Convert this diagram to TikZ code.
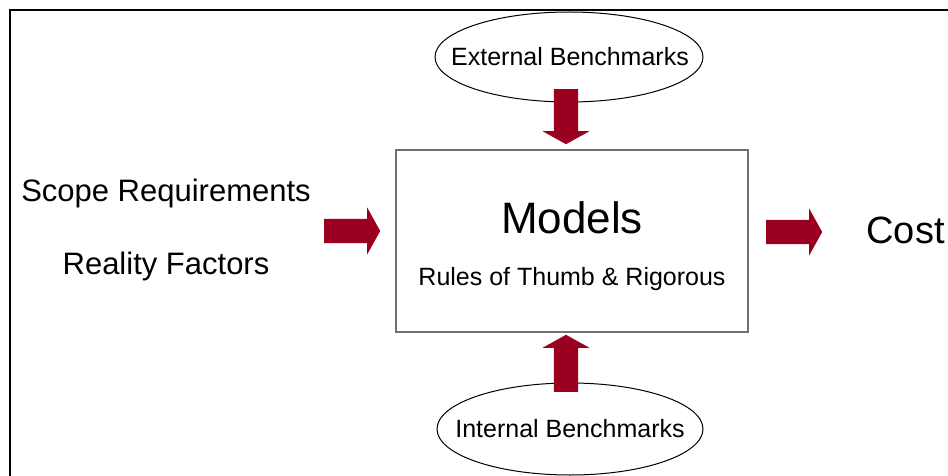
\documentclass[tikz,border=0pt]{standalone}
\usepackage{fontspec}
\setmainfont{Liberation Sans}
\usetikzlibrary{shapes.geometric,shapes.arrows}
\definecolor{CostRed}{HTML}{9B0020}
\definecolor{CostGray}{HTML}{707070}

\begin{document}
\begin{tikzpicture}[x=1pt,y=-1pt]
    \tikzset{benchbox/.style={ellipse,draw=black,line width=1pt,minimum width=268pt,minimum height=90pt,inner sep=0pt},
      fatarrow/.style={single arrow,fill=CostRed,draw=none,single arrow head extend=11.5pt,single arrow tip angle=122,inner xsep=0pt,inner ysep=12pt},
      txt/.style={anchor=base,inner sep=0pt}}
    \useasboundingbox (0,0) rectangle (948,476);
    \draw[line width=2pt] (10,476) -- (10,10) -- (948,10);
    % benchmarks above and below
    \node[benchbox] (ext) at (569,57) {};
    \node[txt,font=\fontsize{25}{30}\selectfont] (extname) at (570,66) {External Benchmarks};
    \node[benchbox,minimum width=266pt,minimum height=92pt] (int) at (570,429) {};
    \node[txt,font=\fontsize{25}{30}\selectfont] (intname) at (570,437) {Internal Benchmarks};
    % the model block
    \node[draw=CostGray,line width=1.5pt,minimum width=352pt,minimum height=182pt,inner sep=0pt] (models) at (572,241) {};
    \node[txt,font=\fontsize{44}{50}\selectfont] (title) at (572,233) {Models};
    \node[txt,font=\fontsize{25}{30}\selectfont] (rules) at (572,285) {Rules of Thumb \& Rigorous};
    % inputs and output
    \node[txt,font=\fontsize{31}{36}\selectfont] (scope) at (166,201) {Scope Requirements};
    \node[txt,font=\fontsize{31}{36}\selectfont] (reality) at (166,274) {Reality Factors};
    \node[txt,font=\fontsize{38}{44}\selectfont] (cost) at (905.5,243) {Cost};
    % block arrows
    \node[fatarrow,minimum height=56pt,anchor=tail] (inarrow) at (324,231) {};
    \node[fatarrow,minimum height=56pt,anchor=tail] (outarrow) at (766,232) {};
    \node[fatarrow,minimum height=55pt,rotate=-90,anchor=tail] (extarrow) at (566,89) {};
    \node[fatarrow,minimum height=57pt,rotate=90,anchor=tail] (intarrow) at (566,392) {};
\end{tikzpicture}
\end{document}
